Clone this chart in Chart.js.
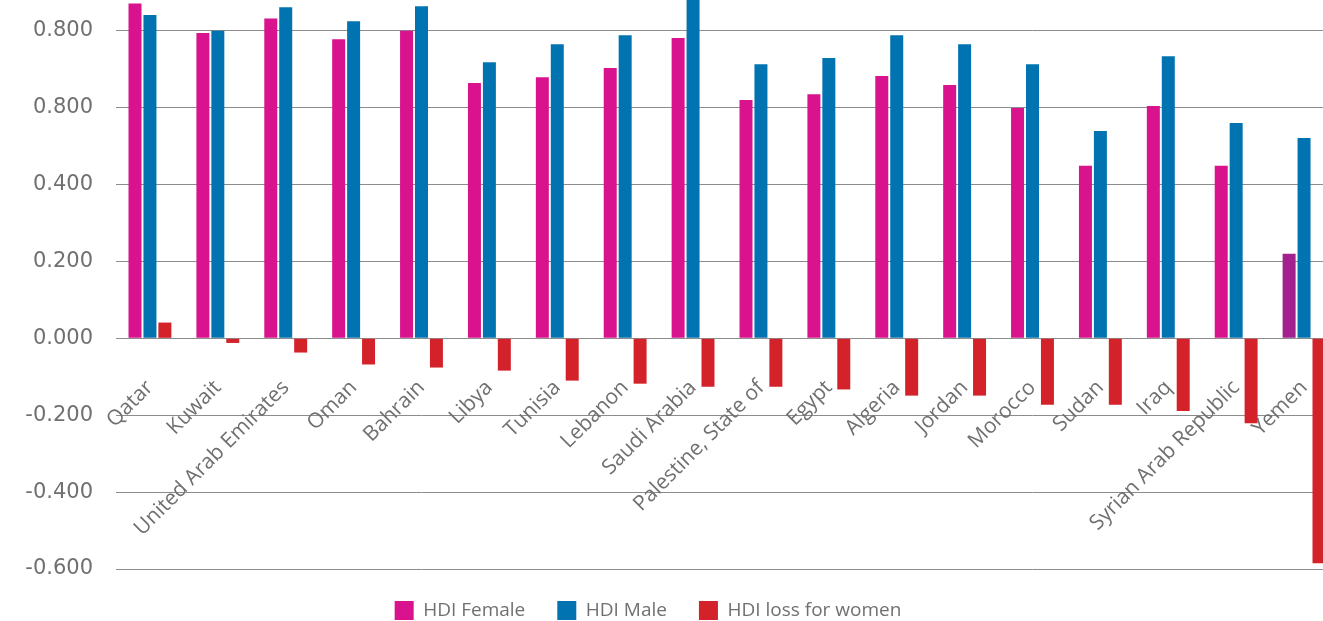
<!DOCTYPE html>
<html>
<head>
<meta charset="utf-8">
<script src="https://cdn.jsdelivr.net/npm/chart.js@4/dist/chart.umd.min.js"></script>
<style>
  html, body { margin: 0; padding: 0; background: #fff; overflow: hidden; }
  #wrap { width: 1338px; height: 621px; }
</style>
</head>
<body>
<div id="wrap"><canvas id="hdiChart" width="1338" height="621"></canvas></div>
<script>
  // values
  const countries = ['Qatar', 'Kuwait', 'United Arab Emirates', 'Oman', 'Bahrain', 'Libya', 'Tunisia',
    'Lebanon', 'Saudi Arabia', 'Palestine, State of', 'Egypt', 'Algeria', 'Jordan', 'Morocco',
    'Sudan', 'Iraq', 'Syrian Arab Republic', 'Yemen'];
  const hdiFemale = [0.871, 0.794, 0.832, 0.778, 0.800, 0.664, 0.679, 0.703, 0.781, 0.620,
    0.635, 0.682, 0.659, 0.599, 0.449, 0.604, 0.449, 0.220];
  const hdiMale = [0.841, 0.800, 0.861, 0.825, 0.864, 0.718, 0.765, 0.788, 0.900, 0.713,
    0.729, 0.788, 0.765, 0.713, 0.539, 0.734, 0.560, 0.521];
  const hdiLoss = [0.041, -0.012, -0.037, -0.068, -0.076, -0.084, -0.110, -0.118, -0.126, -0.126,
    -0.133, -0.149, -0.149, -0.173, -0.173, -0.189, -0.221, -0.585];
  const yTickValues = [0.8, 0.6, 0.4, 0.2, 0, -0.2, -0.4, -0.6];
  const yTickLabels = ['0.800', '0.800', '0.400', '0.200', '0.000', '-0.200', '-0.400', '-0.600'];

  const PINK = '#d9138e';
  const PURPLE = '#a2218e';
  const BLUE = '#0073b0';
  const RED = '#d3222a';
  const GREY_TEXT = '#707070';

  const ctx = document.getElementById('hdiChart').getContext('2d');
  const hdiChart = new Chart(ctx, {
    type: 'bar',
    data: {
      labels: countries,
      datasets: [
        {
          label: 'HDI Female',
          data: hdiFemale,
          // last country is shown in the legend colour
          backgroundColor: (c) => (c.type === 'data' && c.dataIndex < countries.length - 1 ? PINK : PURPLE),
        },
        { label: 'HDI Male', data: hdiMale, backgroundColor: BLUE },
        { label: 'HDI loss for women', data: hdiLoss, backgroundColor: RED },
      ],
    },
    options: {
      responsive: false,
      animation: false,
      barPercentage: 0.87,
      categoryPercentage: 0.66,
      layout: { padding: { left: -42, right: 0, top: 0, bottom: -9 } },
      plugins: {
        tooltip: { enabled: false },
        legend: {
          position: 'bottom',
          labels: {
            boxWidth: 19,
            boxHeight: 19,
            padding: 32,
            color: GREY_TEXT,
            font: { family: 'Open Sans', size: 19 },
          },
        },
      },
      scales: {
        x: {
          position: { y: 0 },
          afterFit: (scale) => {
            scale.paddingLeft = 0;
            scale.paddingRight = 0;
          },
          grid: { display: false },
          border: { display: false },
          ticks: {
            autoSkip: false,
            maxRotation: 45,
            minRotation: 45,
            padding: 29,
            color: GREY_TEXT,
            font: { family: 'Open Sans', size: 21 },
          },
        },
        y: {
          min: -0.6,
          max: 0.88,
          afterBuildTicks: (scale) => {
            scale.ticks = yTickValues.map((v) => ({ value: v }));
          },
          afterFit: (scale) => {
            scale.width = 158;
            scale.paddingTop = 0;
            scale.paddingBottom = 0;
          },
          grid: { color: '#8c8c8c', lineWidth: 1, drawTicks: false },
          border: { display: false },
          ticks: {
            padding: 23,
            color: GREY_TEXT,
            font: { family: 'DejaVu Sans', size: 21 },
            callback: function (value) {
              const i = yTickValues.findIndex((v) => Math.abs(v - value) < 1e-6);
              return i >= 0 ? yTickLabels[i] : '';
            },
          },
        },
      },
    },
  });
</script>
</body>
</html>
